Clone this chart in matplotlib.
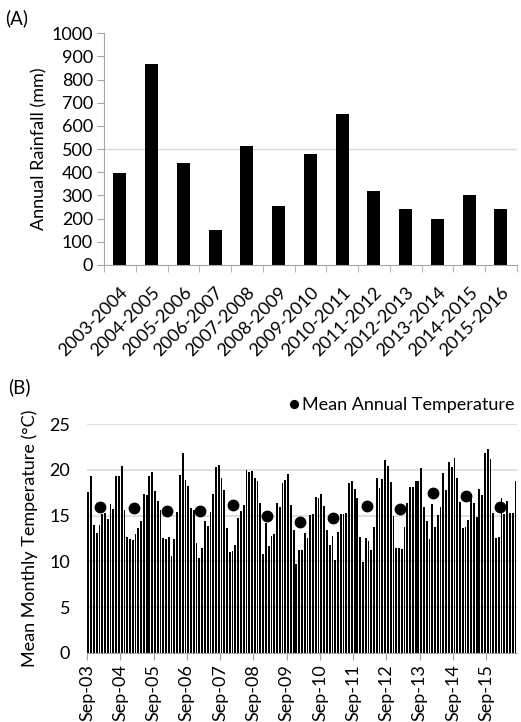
import numpy as np
import matplotlib
matplotlib.use("Agg")
import matplotlib.pyplot as plt
import matplotlib.transforms as mtransforms

plt.rcParams['font.family'] = ['Lato', 'DejaVu Sans']

# panel A data
seasons = ['2003-2004', '2004-2005', '2005-2006', '2006-2007', '2007-2008',
           '2008-2009', '2009-2010', '2010-2011', '2011-2012', '2012-2013',
           '2013-2014', '2014-2015', '2015-2016']
rainfall = [397, 865, 440, 151, 513, 254, 478, 651, 319, 241, 198, 302, 241]

# panel B data (Sep-03 .. Jul-16)
monthly_temp = [
    17.6, 19.3, 14.0, 13.1, 14.0, 15.2, 15.3, 14.6, 16.3, 15.7, 19.3, 19.3,
    20.4, 15.6, 12.7, 12.5, 12.3, 13.0, 13.7, 14.4, 17.4, 17.2, 19.3, 19.8,
    17.7, 16.6, 15.6, 12.6, 12.4, 12.7, 10.6, 12.5, 15.4, 19.4, 21.8, 18.9,
    18.2, 15.8, 15.6, 12.0, 10.4, 11.5, 14.4, 13.9, 15.4, 17.4, 20.3, 20.5,
    19.1, 17.8, 13.6, 11.0, 11.1, 11.8, 14.7, 15.5, 16.2, 20.0, 19.8, 19.9,
    19.1, 18.8, 16.4, 10.8, 14.2, 11.7, 12.8, 13.0, 16.4, 15.9, 18.6, 18.9,
    19.5, 16.2, 13.4, 9.7, 11.2, 11.2, 13.1, 12.6, 15.1, 15.2, 17.0, 16.9,
    17.4, 16.0, 13.4, 11.8, 12.8, 10.2, 13.2, 15.2, 15.2, 15.3, 18.6, 18.8,
    17.9, 16.9, 12.7, 9.9, 12.6, 12.2, 11.2, 13.8, 19.1, 18.0, 19.0, 21.1,
    20.4, 18.7, 15.0, 11.5, 11.5, 11.4, 13.8, 16.4, 18.1, 18.1, 18.8, 18.8,
    20.2, 15.9, 14.4, 12.5, 16.3, 13.8, 15.1, 15.9, 19.7, 17.8, 20.8, 20.3,
    21.3, 19.1, 16.5, 13.6, 13.8, 14.5, 16.9, 16.4, 14.8, 17.9, 17.3, 21.8,
    22.3, 21.2, 15.3, 12.6, 12.7, 16.9, 15.2, 16.6, 15.3, 15.3, 18.8,
]
mean_annual = [15.94, 15.83, 15.54, 15.5, 16.16, 14.99, 14.27, 14.74,
               16.08, 15.76, 17.5, 17.14, 15.94]
tick_labels = ['Sep-03', 'Sep-04', 'Sep-05', 'Sep-06', 'Sep-07', 'Sep-08',
               'Sep-09', 'Sep-10', 'Sep-11', 'Sep-12', 'Sep-13', 'Sep-14',
               'Sep-15']

fs = 13
axis_col = '#a6a6a6'
grid_col = '#d9d9d9'

fig = plt.figure(figsize=(5.21, 7.22), dpi=100)

# ---- (A) ----
ax1 = fig.add_axes([0.1996, 0.633, 0.7924, 0.321])
x = np.arange(len(seasons))
ax1.axhline(500, color=grid_col, lw=1, zorder=0)
ax1.bar(x, rainfall, width=0.41, color='black', zorder=2)
ax1.set_xlim(-0.5, len(seasons) - 0.5)
ax1.set_ylim(0, 1000)
ax1.set_yticks(range(0, 1001, 100))
ax1.set_xticks(x)
ax1.set_xticklabels(seasons, rotation=45, ha='right', rotation_mode='anchor',
                    fontsize=fs)
shift = mtransforms.ScaledTranslation(6.5 / 72, 0, fig.dpi_scale_trans)
for lab in ax1.get_xticklabels():
    lab.set_transform(lab.get_transform() + shift)
ax1.set_xticks(np.arange(len(seasons) + 1) - 0.5, minor=True)
ax1.tick_params(axis='x', which='major', length=0, pad=14)
ax1.tick_params(axis='x', which='minor', length=5, color=axis_col)
ax1.tick_params(axis='y', length=5, color=axis_col, labelsize=fs, pad=3)
for s in ['top', 'right']:
    ax1.spines[s].set_visible(False)
for s in ['left', 'bottom']:
    ax1.spines[s].set_color(axis_col)
ax1.set_ylabel('Annual Rainfall (mm)', fontsize=fs, labelpad=3)
fig.text(0.01, 0.975, '(A)', fontsize=fs + 0.5, va='center', ha='left')

# ---- (B) ----
ax2 = fig.add_axes([0.167, 0.0956, 0.825, 0.3171])
m = np.arange(len(monthly_temp))
for g in [5, 10, 15, 20, 25]:
    ax2.axhline(g, color=grid_col, lw=1.2, zorder=0)
ax2.bar(m, monthly_temp, width=0.65, color='black', zorder=2)
dot_x = np.arange(len(mean_annual)) * 12 + 4.3
ax2.plot(dot_x, mean_annual, 'o', color='black', ms=7.5, zorder=3,
         label='Mean Annual Temperature')
ax2.set_xlim(-0.5, len(monthly_temp) - 0.5)
ax2.set_ylim(0, 25)
ax2.set_yticks(range(0, 26, 5))
ticks = np.arange(len(tick_labels)) * 12 - 0.5
ax2.set_xticks(ticks)
ax2.set_xticklabels(tick_labels, rotation=90, fontsize=fs)
ax2.tick_params(axis='x', length=5, color=axis_col, pad=3)
ax2.tick_params(axis='y', length=0, labelsize=fs, pad=12)
for s in ['top', 'right', 'left']:
    ax2.spines[s].set_visible(False)
ax2.spines['bottom'].set_color(axis_col)
ax2.set_ylabel('Mean Monthly Temperature (°C)', fontsize=fs, labelpad=8)
ax2.legend(loc='lower right', bbox_to_anchor=(1.02, 1.0), frameon=False,
           fontsize=fs, handlelength=0.5, handletextpad=0.2, markerscale=0.75,
           borderaxespad=0.2)
fig.text(0.015, 0.464, '(B)', fontsize=fs + 0.5, va='center', ha='left')

fig.savefig('out.png', dpi=100)
